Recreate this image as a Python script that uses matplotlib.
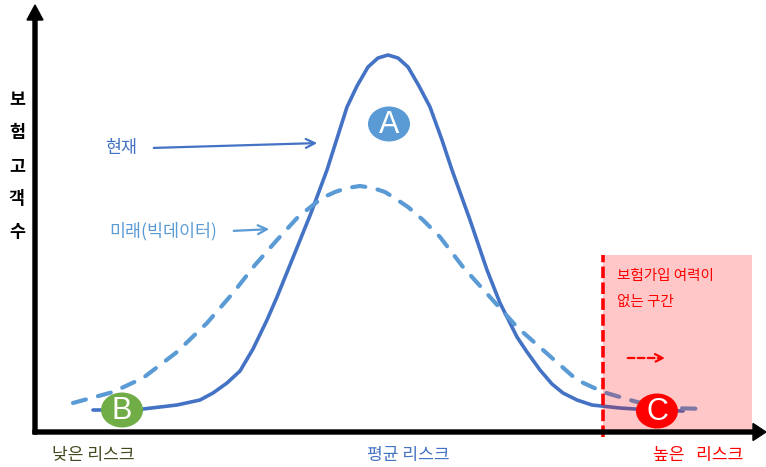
import matplotlib
matplotlib.use("Agg")
import matplotlib.pyplot as plt
from matplotlib.patches import Ellipse, Rectangle, FancyArrow

plt.rcParams['font.family'] = ['Noto Sans CJK KR', 'DejaVu Sans']

# Risk (x) vs. number of insured customers (y), in drawing units
current_x = [58, 87, 108, 125, 142, 165, 178, 192, 205, 218, 232, 242, 255, 276, 292,
             312, 322, 333, 343, 353, 363, 373, 384, 395, 407, 417, 435, 452, 465, 482,
             492, 505, 517, 528, 542, 557, 585, 615, 648]
current_y = [22, 22, 23, 25, 27, 32, 39, 49, 61, 83, 112, 135, 167, 219, 262,
             325, 346, 365, 374, 377, 374, 365, 346, 325, 292, 262, 212, 162, 129, 95,
             80, 62, 48, 39, 32, 27, 24, 22, 21]

future_x = [38, 78, 108, 142, 172, 198, 220, 242, 263, 287, 300, 312, 325, 338, 350,
            358, 373, 388, 405, 428, 455, 482, 508, 542, 568, 602, 635, 672]
future_y = [29, 40, 54, 80, 109, 139, 167, 192, 215, 234, 240, 244, 246, 244, 240,
            235, 225, 212, 195, 165, 135, 105, 82, 52, 40, 30, 24, 23]

axis_title = ['보', '험', '고', '객', '수']
risk_labels = ['낮은 리스크', '평균 리스크', '높은   리스크']
risk_label_x = [17, 332, 618]
risk_label_colors = ['#45481F', '#4472C4', '#FF0000']

marker_names = ['A', 'B', 'C']
marker_x = [354, 87, 622]
marker_y = [308, 22, 21]
marker_colors = ['#5B9BD5', '#70AD47', '#FF0000']

zone_start = 568
zone_end = 717
zone_top = 177

fig = plt.figure(figsize=(7.66, 4.67), dpi=100)
ax = fig.add_axes([0, 0, 1, 1])
ax.set_xlim(-35, 731)
ax.set_ylim(-35, 432)
ax.axis('off')

# curves
ax.plot(current_x, current_y, color='#4472C4', lw=2.6, solid_joinstyle='round',
        solid_capstyle='round', zorder=3)
ax.plot(future_x, future_y, color='#5B9BD5', lw=3.0, dashes=(3.2, 3.0),
        dash_capstyle='round', dash_joinstyle='round', zorder=3)

# axes with arrow heads
ax.add_patch(FancyArrow(-2, 0, 733, 0, width=4, head_width=17, head_length=13,
                        length_includes_head=True, color='black', zorder=6))
ax.add_patch(FancyArrow(0, -2, 0, 429, width=4, head_width=16, head_length=15,
                        length_includes_head=True, color='black', zorder=6))

# high-risk zone
ax.add_patch(Rectangle((zone_start, 0), zone_end - zone_start, zone_top,
                       facecolor=(1.0, 0.0, 0.0, 0.22), edgecolor='none', zorder=4))
ax.plot([zone_start, zone_start], [-5, zone_top], color='#FF0000', lw=2.6,
        dashes=(3.2, 1.2), zorder=5)
ax.text(zone_start + 14, 156, '보험가입 여력이', color='#FF0000', fontsize=10.5,
        ha='left', va='center', zorder=7)
ax.text(zone_start + 14, 130, '없는 구간', color='#FF0000', fontsize=10.5,
        ha='left', va='center', zorder=7)
ax.annotate('', xy=(633, 74), xytext=(590, 74), zorder=7,
            arrowprops=dict(arrowstyle='->', color='#FF0000', lw=1.6,
                            linestyle=(0, (3, 1.5)), mutation_scale=14))

# series labels with arrows
ax.text(70, 284, '현재', color='#4472C4', fontsize=12.5, ha='left', va='center')
ax.annotate('', xy=(285, 289), xytext=(116, 284),
            arrowprops=dict(arrowstyle='->', color='#4472C4', lw=1.6, mutation_scale=16))
ax.text(74, 201, '미래(빅데이터)', color='#5B9BD5', fontsize=12.5, ha='left', va='center')
ax.annotate('', xy=(237, 203), xytext=(196, 201),
            arrowprops=dict(arrowstyle='->', color='#5B9BD5', lw=1.6, mutation_scale=16))

# lettered markers
for name, mx, my, mc in zip(marker_names, marker_x, marker_y, marker_colors):
    ax.add_patch(Ellipse((mx, my), 42, 35, facecolor=mc, edgecolor='none', zorder=8))
    ax.text(mx, my - 1, name, color='white', fontsize=22, ha='center', va='center',
            family='Liberation Sans', zorder=9)

# vertical axis title, stacked characters
for i, ch in enumerate(axis_title):
    ax.text(-18, 332 - 33 * i, ch, color='black', fontsize=12.5, fontweight='bold',
            ha='center', va='center')

# risk labels under the horizontal axis
for lab, lx, lc in zip(risk_labels, risk_label_x, risk_label_colors):
    ax.text(lx, -23, lab, color=lc, fontsize=12.3, ha='left', va='center')

fig.savefig('out.png', dpi=100)
